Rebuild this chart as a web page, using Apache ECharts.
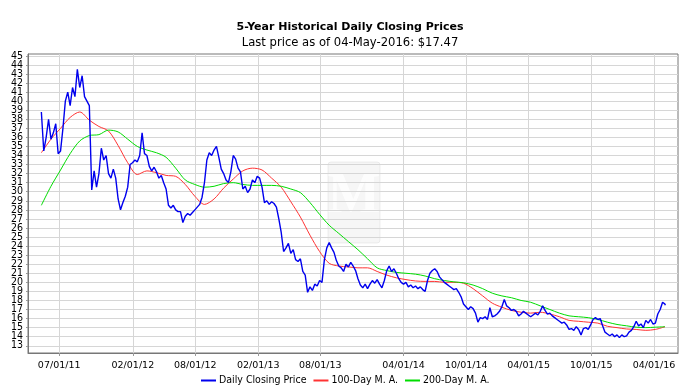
<!DOCTYPE html>
<html><head><meta charset="utf-8">
<script src="https://cdn.jsdelivr.net/npm/echarts@6/dist/echarts.min.js"></script>
<style>html,body{margin:0;padding:0;background:#fff}#c{width:700px;height:390px}</style>
</head><body><div id="c"></div>
<script>
const titleText = '5-Year Historical Daily Closing Prices';
const subtitleText = 'Last price as of 04-May-2016: $17.47';
const seriesNames = ['Daily Closing Price', '100-Day M. A.', '200-Day M. A.'];

// weekly closing prices starting 2011-05-10
const closeStart = '2011-05-10';
const closeValues = [
  38.8, 34.5, 36, 38, 35.8, 36.5, 37.5, 34.2, 34.5, 37,
  40, 41, 39.5, 41.5, 40.5, 43.5, 41.5, 42.8, 40.5, 40,
  39.5, 30.2, 32.3, 30.5, 32, 34.8, 33.5, 34, 32, 31.5,
  32.5, 31.5, 29.2, 28, 28.8, 29.5, 30.5, 33, 33.2, 33.5,
  33.3, 34, 36.5, 34.2, 34, 32.8, 32.3, 32.7, 32.2, 31.5,
  31.8, 31, 30.3, 28.5, 28.2, 28.5, 28, 27.8, 27.8, 26.6,
  27.3, 27.6, 27.4, 27.7, 28, 28.3, 28.6, 29.4, 31, 33.5,
  34.3, 34, 34.6, 35, 33.8, 32.5, 32, 31.3, 31, 32.2,
  34, 33.6, 32.6, 32.2, 30.3, 30.6, 29.9, 30.3, 31.3, 31,
  31.7, 31.5, 30.5, 28.8, 29, 28.6, 28.9, 28.7, 28.3, 27,
  25.5, 23.4, 23.8, 24.3, 23.2, 23.6, 22.5, 22.3, 22.6, 21.2,
  20.8, 18.9, 19.5, 19.1, 19.8, 19.6, 20.2, 20, 22.5, 23.8,
  24.4, 23.8, 23.3, 22.4, 21.8, 21.6, 21.2, 22, 21.7, 22.2,
  21.8, 21.3, 20.4, 19.7, 19.4, 19.8, 19.3, 19.8, 20.2, 19.9,
  20.3, 19.8, 19.4, 20.2, 21.3, 21.8, 21.2, 21.5, 21, 20.4,
  20, 19.8, 20, 19.5, 19.7, 19.4, 19.6, 19.3, 19.5, 19.2,
  19, 20.2, 21, 21.3, 21.5, 21.2, 20.6, 20.3, 20, 19.8,
  19.6, 19.4, 19.2, 19.3, 18.9, 18.4, 17.6, 17.3, 17, 17.3,
  17.1, 16.6, 15.6, 16.1, 16, 16.2, 15.9, 17.2, 16.2, 16.3,
  16.5, 16.8, 17.3, 18.1, 17.4, 17.2, 16.9, 17, 16.8, 16.3,
  16.5, 16.8, 16.6, 16.4, 16.2, 16.4, 16.6, 16.4, 16.8, 17.4,
  16.9, 16.5, 16.6, 16.3, 16.1, 15.9, 15.7, 15.5, 15.6, 15.3,
  14.8, 14.9, 14.7, 15.1, 14.8, 14.2, 14.9, 15, 14.8, 15.3,
  15.9, 16.1, 15.9, 16, 15.2, 14.5, 14.3, 14.1, 14.3, 14,
  14.2, 13.9, 14.2, 14, 14.1, 14.5, 14.7, 15.1, 15.7, 15.2,
  15.4, 15, 15.8, 15.5, 15.9, 15.4, 15.5, 16.5, 17, 17.8,
  17.6
];
const lastDate = '2016-05-04';
const lastValue = 17.47;

// moving averages sampled every 4 weeks from closeStart
const maStepWeeks = 4;
const ma100Values = [
  34.3, 35.8, 37.0, 38.2, 38.8, 37.9, 37.2, 36.7, 35.1, 33.2,
  31.9, 32.3, 32.1, 31.8, 31.7, 30.8, 29.5, 28.6, 29.2, 30.4,
  31.4, 32.3, 32.6, 32.4, 31.5, 30.5, 28.9, 27.2, 25.2, 23.4,
  22.1, 21.8, 21.7, 21.6, 21.6, 21.2, 20.8, 20.5, 20.3, 20.15,
  20.1, 20.1, 20.0, 20.0, 19.9, 19.3, 18.5, 17.7, 17.25, 16.9,
  16.7, 16.6, 16.7, 16.5, 16.2, 15.8, 15.7, 15.6, 15.5, 15.15,
  15.0, 14.85, 14.8, 14.7, 14.8, 15.1
];
const ma200Values = [
  28.5, 30.6, 32.4, 34.2, 35.6, 36.2, 36.3, 36.8, 36.6, 35.8,
  35.0, 34.6, 34.3, 33.8, 32.6, 31.3, 30.8, 30.5, 30.6, 30.9,
  31.0, 30.8, 30.7, 30.7, 30.7, 30.6, 30.3, 29.9, 28.8, 27.5,
  26.3, 25.4, 24.5, 23.6, 22.6, 21.6, 21.3, 21.1, 21.0, 20.9,
  20.7, 20.4, 20.2, 20.05, 19.95, 19.7, 19.3, 18.8, 18.5, 18.3,
  18.0, 17.8, 17.4, 17.0, 16.6, 16.3, 16.2, 16.1, 15.9, 15.6,
  15.35, 15.2, 15.05, 15.0, 15.05, 15.1
];

const xTickDates = ['2011-07-01', '2012-02-01', '2012-08-01', '2013-02-01', '2013-08-01',
  '2014-04-01', '2014-10-01', '2015-04-01', '2015-10-01', '2016-04-01'];
const xMinDate = '2011-04-01';
const xMaxDate = '2016-06-10';
const yTicks = [13, 14, 15, 16, 17, 18, 19, 20, 21, 22, 23, 24, 25, 26, 27, 28, 29,
  30, 31, 32, 33, 34, 35, 36, 37, 38, 39, 40, 41, 42, 43, 44, 45];
const yMin = 12.2, yMax = 45.2;

const DAY = 86400000;
const t0 = Date.parse(closeStart);
const closeData = closeValues.map((v, i) => [t0 + i * 7 * DAY, v]);
closeData.push([Date.parse(lastDate), lastValue]);
const ma100Data = ma100Values.map((v, k) => [t0 + k * maStepWeeks * 7 * DAY, v]);
const ma200Data = ma200Values.map((v, k) => [t0 + k * maStepWeeks * 7 * DAY, v]);
const xTicks = xTickDates.map(d => Date.parse(d));
const yTicksOdd = yTicks.filter(v => v % 2 === 1);
const yTicksEven = yTicks.filter(v => v % 2 === 0);
const pad = n => (n < 10 ? '0' : '') + n;
const fmtDate = v => { const d = new Date(v); return pad(d.getUTCMonth() + 1) + '/' + pad(d.getUTCDate()) + '/' + pad(d.getUTCFullYear() % 100); };

const narrow = 'DejaVu Sans Condensed, Liberation Sans, sans-serif';
const yLabelStyle = { showMinLabel: true, showMaxLabel: true, hideOverlap: false,
  fontFamily: narrow, fontSize: 10.5, color: '#000', margin: 5 };
const chart = echarts.init(document.getElementById('c'), null, { renderer: 'canvas' });
chart.setOption({
  animation: false,
  backgroundColor: '#fff',
  title: [
    { text: titleText, left: 'center', top: 22, padding: 0,
      textStyle: { fontFamily: 'DejaVu Sans', fontSize: 11, fontWeight: 'bold', color: '#000' } },
    { text: subtitleText, left: 'center', top: 37, padding: 0,
      textStyle: { fontFamily: 'DejaVu Sans', fontSize: 11.6, fontWeight: 'normal', color: '#000' } }
  ],
  legend: {
    data: seriesNames, left: 201, top: 375, itemWidth: 15, itemHeight: 2, itemGap: 7, icon: 'rect', padding: 0,
    textStyle: { fontFamily: narrow, fontSize: 10.5, color: '#000', padding: [0, 0, 0, -2] }
  },
  grid: { left: 28, right: 22, top: 54, bottom: 37, show: true, borderColor: '#777', borderWidth: 1, outerBoundsMode: 'none' },
  xAxis: {
    type: 'value', min: Date.parse(xMinDate), max: Date.parse(xMaxDate),
    axisLine: { show: true, lineStyle: { color: '#777' } },
    axisTick: { show: true, length: 3, customValues: xTicks, lineStyle: { color: '#999' } },
    axisLabel: { customValues: xTicks, formatter: fmtDate, fontFamily: 'DejaVu Sans', fontSize: 9.5, color: '#000', margin: 8 },
    splitLine: { show: true, lineStyle: { color: '#d6d6d6', width: 1 } }
  },
  yAxis: [
    {
      type: 'value', min: yMin, max: yMax, position: 'left',
      axisLine: { show: true, lineStyle: { color: '#777' } },
      axisTick: { show: true, length: 2, customValues: yTicks, lineStyle: { color: '#999' } },
      axisLabel: Object.assign({ customValues: yTicksOdd }, yLabelStyle),
      splitLine: { show: true, lineStyle: { color: '#d6d6d6', width: 1 } }
    },
    {
      type: 'value', min: yMin, max: yMax, position: 'left', offset: 0,
      axisLine: { show: false }, axisTick: { show: false }, splitLine: { show: false },
      axisLabel: Object.assign({ customValues: yTicksEven }, yLabelStyle)
    }
  ],
  graphic: [
    { type: 'rect', silent: true, z: 0, shape: { x: 328, y: 162, width: 52, height: 81, r: 3 },
      style: { fill: 'rgba(225,225,225,0.3)', stroke: 'rgba(210,210,210,0.35)' } },
    { type: 'text', silent: true, z: 0, x: 354, y: 198,
      style: { text: 'M', fontFamily: 'Liberation Serif', fontSize: 56, fontWeight: 'bold', fill: 'rgba(255,255,255,0.8)', align: 'center', verticalAlign: 'middle' } }
  ],
  series: [
    { name: seriesNames[0], type: 'line', data: closeData, showSymbol: false, color: '#0000ee',
      lineStyle: { width: 1.4, color: '#0000ee' }, z: 3 },
    { name: seriesNames[1], type: 'line', data: ma100Data, showSymbol: false, smooth: 0.3, color: '#ff3333',
      lineStyle: { width: 1, color: '#ff3333' }, z: 2 },
    { name: seriesNames[2], type: 'line', data: ma200Data, showSymbol: false, smooth: 0.3, color: '#00dd00',
      lineStyle: { width: 1, color: '#00dd00' }, z: 2 }
  ]
});
</script></body></html>
